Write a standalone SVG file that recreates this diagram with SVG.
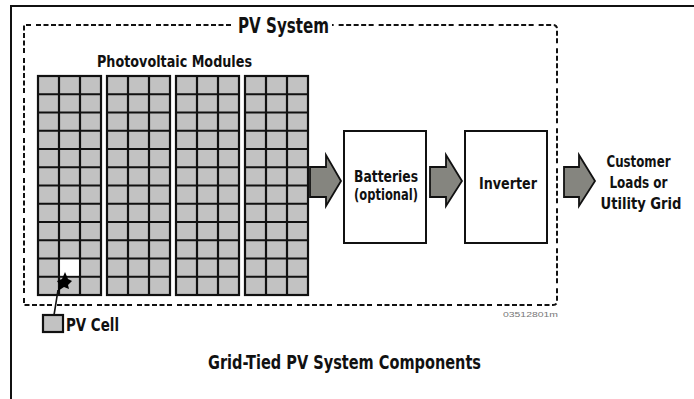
<svg xmlns="http://www.w3.org/2000/svg" width="694" height="399" viewBox="0 0 694 399">
<defs>
<style>
.t{font-family:"DejaVu Sans Condensed","DejaVu Sans","Liberation Sans",sans-serif;font-weight:bold;font-stretch:condensed;fill:#111}
.cell{fill:#c2c2c2;stroke:#111;stroke-width:2.2}
.grid{stroke:#111;stroke-width:2.2;fill:none}
.box{fill:#fff;stroke:#111;stroke-width:2}
.arr{fill:#85857f;stroke:#111;stroke-width:1.8;stroke-linejoin:miter}
.dash{fill:none;stroke:#111;stroke-width:2;stroke-dasharray:5 2.5 5 2.5 5 2.5 5 2.5 5 5}
</style>
</defs>
<rect width="694" height="399" fill="#fff"/>
<!-- outer frame -->
<path d="M11 399 V6 H694" fill="none" stroke="#111" stroke-width="2"/>
<!-- PV system dashed boundary -->
<g id="pv-system">
<path class="dash" d="M231 25 H24 V305 H553 Q557 305 557 301 V29 Q557 25 553 25 H332"/>
<text class="t" x="238" y="33" font-size="21" textLength="91" lengthAdjust="spacingAndGlyphs">PV System</text>
<text class="t" x="97" y="67" font-size="16" textLength="155" lengthAdjust="spacingAndGlyphs">Photovoltaic Modules</text>
</g>
<!-- modules -->
<g id="modules">
<g id="module1">
<rect class="cell" x="38" y="76" width="63" height="219"/>
<path class="grid" d="M59 76V295M80 76V295M38 94.25H101M38 112.5H101M38 130.75H101M38 149H101M38 167.25H101M38 185.5H101M38 203.75H101M38 222H101M38 240.25H101M38 258.5H101M38 276.75H101"/>
<rect x="60.1" y="259.6" width="18.8" height="16" fill="#fff"/>
</g>
<g id="module2">
<rect class="cell" x="107" y="76" width="63" height="219"/>
<path class="grid" d="M128 76V295M149 76V295M107 94.25H170M107 112.5H170M107 130.75H170M107 149H170M107 167.25H170M107 185.5H170M107 203.75H170M107 222H170M107 240.25H170M107 258.5H170M107 276.75H170"/>
</g>
<g id="module3">
<rect class="cell" x="176" y="76" width="63" height="219"/>
<path class="grid" d="M197 76V295M218 76V295M176 94.25H239M176 112.5H239M176 130.75H239M176 149H239M176 167.25H239M176 185.5H239M176 203.75H239M176 222H239M176 240.25H239M176 258.5H239M176 276.75H239"/>
</g>
<g id="module4">
<rect class="cell" x="245" y="76" width="63" height="219"/>
<path class="grid" d="M266 76V295M287 76V295M245 94.25H308M245 112.5H308M245 130.75H308M245 149H308M245 167.25H308M245 185.5H308M245 203.75H308M245 222H308M245 240.25H308M245 258.5H308M245 276.75H308"/>
</g>
</g>
<!-- PV cell legend -->
<g id="pv-cell">
<rect class="cell" x="43" y="315" width="20" height="17" stroke-width="1.6"/>
<text class="t" x="66" y="331" font-size="17" textLength="53" lengthAdjust="spacingAndGlyphs">PV Cell</text>
</g>
<!-- Batteries -->
<g id="batteries">
<rect class="box" x="344" y="131" width="82" height="112"/>
<text class="t" x="386" y="182" font-size="16" text-anchor="middle" textLength="64" lengthAdjust="spacingAndGlyphs">Batteries</text>
<text class="t" x="386" y="200" font-size="15" font-weight="normal" text-anchor="middle" textLength="64" lengthAdjust="spacingAndGlyphs" fill="#333">(optional)</text>
</g>
<!-- Inverter -->
<g id="inverter">
<rect class="box" x="465" y="131" width="82" height="112"/>
<text class="t" x="508" y="189" font-size="16" text-anchor="middle" textLength="58" lengthAdjust="spacingAndGlyphs">Inverter</text>
</g>
<!-- Customer loads -->
<g id="loads">
<text class="t" font-size="16" text-anchor="middle">
<tspan x="641" y="167" textLength="64" lengthAdjust="spacingAndGlyphs">Customer</tspan>
<tspan x="641" y="188" textLength="58" lengthAdjust="spacingAndGlyphs">Loads or</tspan>
<tspan x="641" y="209" textLength="81" lengthAdjust="spacingAndGlyphs">Utility Grid</tspan>
</text>
</g>
<!-- connectors -->
<g id="connectors">
<polygon class="arr" points="310,167 326,167 326,155 341,181 326,206 326,197 310,197"/>
<polygon class="arr" points="430,167 446,167 446,155 462,181 446,206 446,197 430,197"/>
<polygon class="arr" points="564,167 579,167 579,155 595,181 579,206 579,197 564,197"/>
<path d="M54 315 L55 309 L58 290" fill="none" stroke="#111" stroke-width="1.6"/>
<polygon points="58,291 59,284 57,281 62,279 65,272 68,279 72,281 68,285 69,289 64,287" fill="#000"/>
</g>
<text x="503" y="317" font-family="Liberation Sans Narrow, Liberation Sans, sans-serif" font-size="7" fill="#777" textLength="55" lengthAdjust="spacingAndGlyphs">03512801m</text>
<text class="t" x="208" y="369" font-size="19" textLength="273" lengthAdjust="spacingAndGlyphs">Grid-Tied PV System Components</text>
</svg>
